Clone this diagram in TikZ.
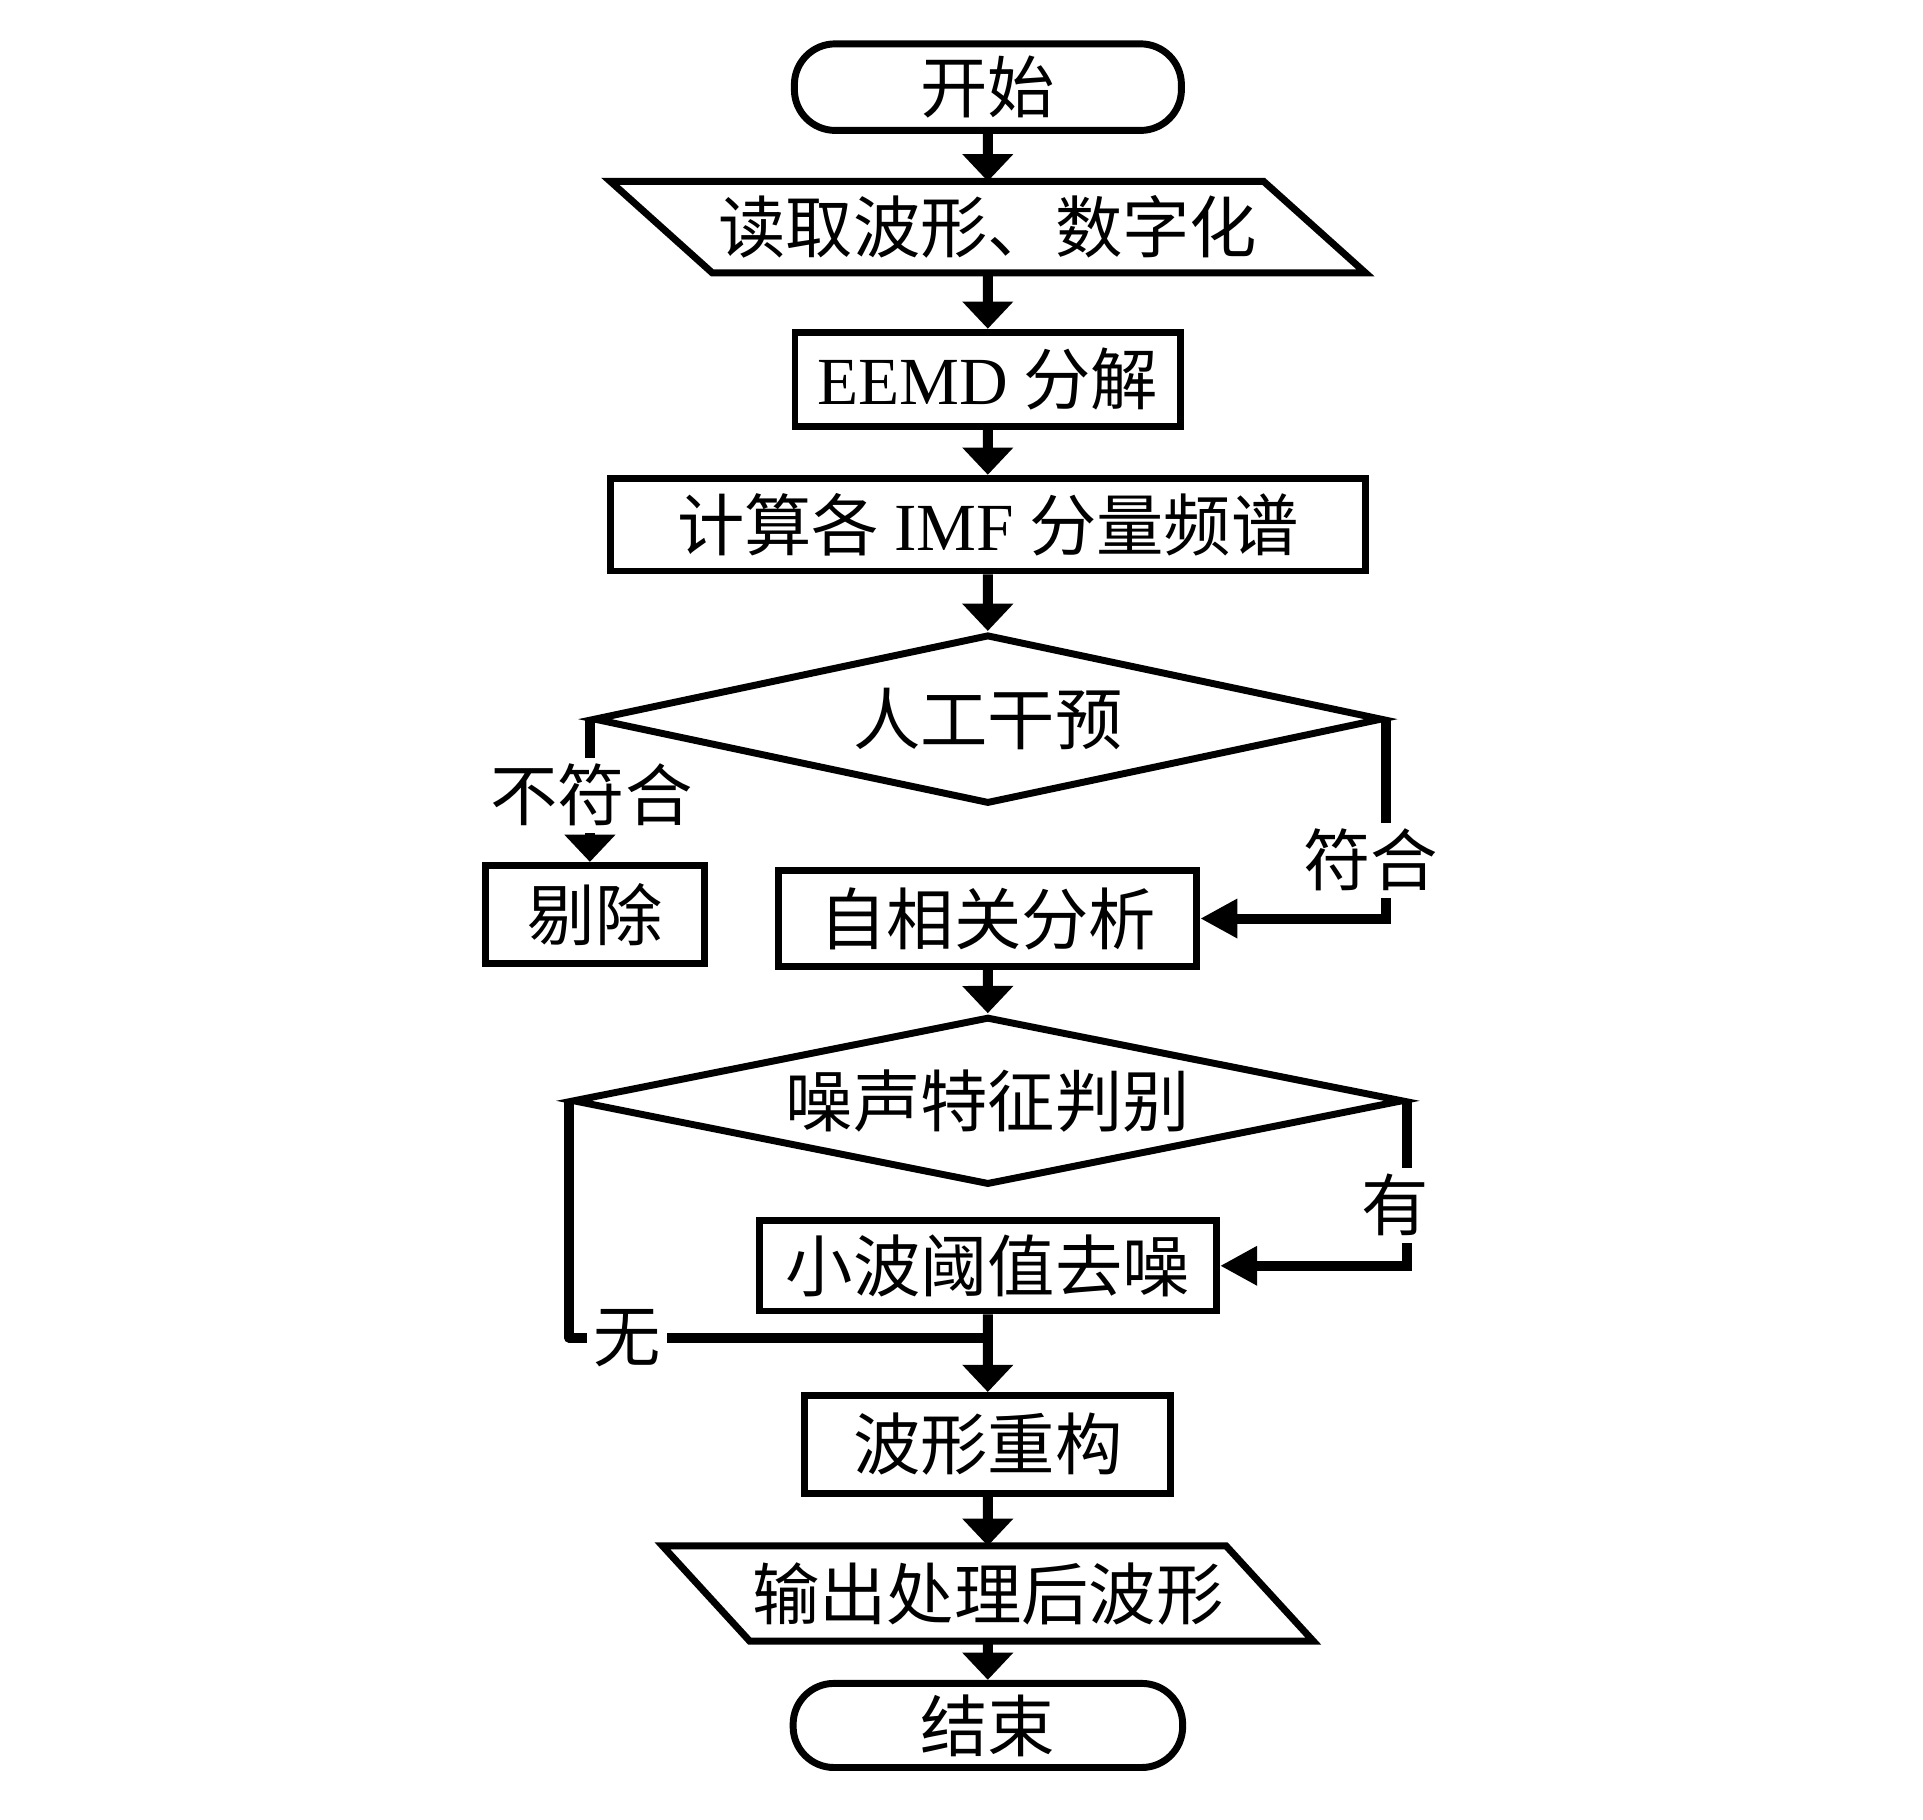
\documentclass[tikz,border=0pt]{standalone}
\usepackage{fontspec}
\setmainfont{Liberation Serif}
\newfontfamily\cjk{Noto Sans CJK SC}
\newcommand\cjkfs{\cjk\fontsize{15.5}{18}\selectfont}
\newcommand\lat[1]{{\rmfamily #1}}
\usetikzlibrary{shapes.geometric,arrows.meta}
\begin{document}
\begin{tikzpicture}[x=0.01cm,y=-0.01cm,
  box/.style={draw, rectangle, line width=1.6pt, inner sep=0pt, font=\cjkfs},
  term/.style={draw, rectangle, rounded corners=0.33cm, line width=1.6pt, inner sep=0pt, font=\cjkfs},
  iobox/.style={rectangle, inner sep=0pt, outer sep=0pt, font=\cjkfs},
  dia/.style={draw, diamond, line width=1.6pt, inner sep=0pt, font=\cjkfs},
  lbl/.style={fill=white, inner sep=1.5pt, font=\cjkfs},
  conn/.style={line width=2.3pt},
  arr/.style={conn, -{Triangle[length=0.22cm,width=0.4cm]}},
  harr/.style={conn, line join=miter, -{Triangle[length=0.3cm,width=0.3cm]}}]
\path[use as bounding box] (0,0) rectangle (1556,1472);

\begin{scope}[scale=0.993]
% nodes
\node[term, minimum width=3.13cm, minimum height=0.70cm] (start) at (805,71) {开始};
\node[iobox, minimum width=5.32cm, minimum height=0.74cm] (rd) at (805,185) {读取波形、数字化};
\draw[line width=1.6pt, line join=miter] ([xshift=-3.075cm]rd.north) -- ([xshift=2.245cm]rd.north)
  -- ([xshift=3.075cm]rd.south) -- ([xshift=-2.245cm]rd.south) -- cycle;
\node[box, minimum width=3.12cm, minimum height=0.76cm] (eemd) at (805,309) {\lat{EEMD} 分解};
\node[box, minimum width=6.1cm, minimum height=0.75cm] (imf) at (805,427.5) {计算各 \lat{IMF} 分量频谱};
\node[dia, aspect=4.64, minimum width=6.38cm, minimum height=1.37cm] (d1) at (805,586) {人工干预};
\node[box, minimum width=1.77cm, minimum height=0.79cm] (tichu) at (485,745) {剔除};
\node[box, minimum width=3.38cm, minimum height=0.77cm] (zxg) at (805,748.5) {自相关分析};
\node[dia, aspect=4.93, minimum width=6.72cm, minimum height=1.36cm] (d2) at (805,897) {噪声特征判别};
\node[box, minimum width=3.7cm, minimum height=0.73cm] (xb) at (805,1031.5) {小波阈值去噪};
\node[box, minimum width=2.96cm, minimum height=0.79cm] (cg) at (805,1177) {波形重构};
\node[iobox, minimum width=4.6cm, minimum height=0.77cm] (out) at (805,1298.5) {输出处理后波形};
\draw[line width=1.6pt, line join=miter] ([xshift=-2.65cm]out.north) -- ([xshift=1.94cm]out.north)
  -- ([xshift=2.65cm]out.south) -- ([xshift=-1.94cm]out.south) -- cycle;
\node[term, minimum width=3.15cm, minimum height=0.68cm] (end) at (805,1406) {结束};

% connectors
\draw[arr] (start) -- (rd);
\draw[arr] (rd) -- (eemd);
\draw[arr] (eemd) -- (imf);
\draw[arr] (imf) -- (d1);
\draw[arr] (d1.west) -- (d1.west |- tichu.north);
\node[lbl] (nfh) at (482,648) {不符合};
\draw[harr] (d1.east) |- (zxg.east);
\node[lbl] (fh) at (1117,701) {符合};
\draw[arr] (zxg) -- (d2);
\draw[harr] (d2.east) |- (xb.east);
\node[lbl] (you) at (1137,982) {有};
\coordinate (j) at (805,1090);
\draw[conn, line join=round] (d2.west) |- (j);
\node[lbl] (wu) at (511,1090) {无};
\draw[arr] (xb) -- (cg);
\draw[arr] (cg) -- (out);
\draw[arr] (out) -- (end);
\end{scope}
\end{tikzpicture}
\end{document}
